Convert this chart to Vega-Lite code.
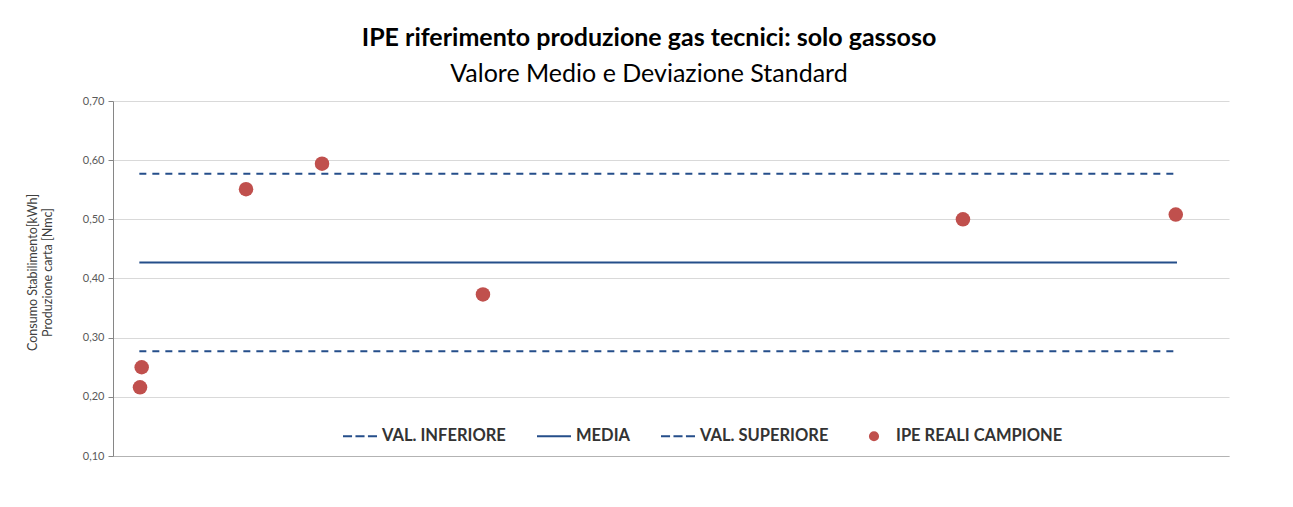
{
  "$schema": "https://vega.github.io/schema/vega-lite/v6.json",
  "autosize": {"type": "none"},
  "width": 1116,
  "height": 355,
  "padding": {"left": 113, "top": 101, "right": 64, "bottom": 51},
  "background": "white",
  "title": {
    "text": "IPE riferimento produzione gas tecnici: solo gassoso",
    "subtitle": "Valore Medio e Deviazione Standard",
    "anchor": "middle",
    "dx": -22,
    "offset": 8,
    "font": "Lato",
    "fontSize": 25,
    "fontWeight": "bold",
    "color": "#000000",
    "subtitleFont": "Lato",
    "subtitleFontSize": 25,
    "subtitleColor": "#000000",
    "subtitlePadding": 11
  },
  "config": {
    "view": {"stroke": null},
    "font": "Lato",
    "legend": {
      "orient": "none",
      "direction": "horizontal",
      "legendX": 229,
      "legendY": 317,
      "padding": 0,
      "columnPadding": 27,
      "symbolSize": 1156,
      "labelFont": "Lato",
      "labelFontSize": 16.5,
      "labelFontWeight": "bold",
      "labelColor": "#333333",
      "labelOffset": 4,
      "labelLimit": 0
    }
  },
  "layer": [
    {
      "data": {
        "values": [
          {"series": "VAL. INFERIORE", "x": 2.36, "v": 0.277},
          {"series": "VAL. INFERIORE", "x": 95.34, "v": 0.277},
          {"series": "MEDIA", "x": 2.36, "v": 0.427},
          {"series": "MEDIA", "x": 95.34, "v": 0.427},
          {"series": "VAL. SUPERIORE", "x": 2.36, "v": 0.577},
          {"series": "VAL. SUPERIORE", "x": 95.34, "v": 0.577}
        ]
      },
      "mark": {"type": "line", "strokeWidth": 2},
      "encoding": {
        "x": {
          "field": "x", "type": "quantitative",
          "scale": {"domain": [0, 100], "nice": false, "zero": false},
          "axis": {"title": null, "labels": false, "ticks": false, "grid": false, "domain": true, "domainColor": "#b3b3b3", "domainWidth": 1}
        },
        "y": {
          "field": "v", "type": "quantitative",
          "scale": {"domain": [0.1, 0.7], "nice": false, "zero": false},
          "axis": {
            "values": [0.1, 0.2, 0.3, 0.4, 0.5, 0.6, 0.7],
            "labelExpr": "replace(format(datum.value, '.2f'), '.', ',')",
            "labelFont": "Lato", "labelFontSize": 11, "labelColor": "#595959", "labelPadding": 4,
            "tickSize": 5, "tickColor": "#868686", "domainColor": "#868686",
            "gridColor": "#d9d9d9", "gridWidth": 1,
            "title": ["Consumo Stabilimento[kWh]", "Produzione carta [Nmc]"],
            "titleFont": "Lato", "titleFontSize": 12.5, "titleFontWeight": "normal", "titleColor": "#404040",
            "titleLineHeight": 15, "titlePadding": 28, "titleY": 171
          }
        },
        "color": {
          "field": "series", "type": "nominal",
          "title": null,
          "scale": {
            "domain": ["VAL. INFERIORE", "MEDIA", "VAL. SUPERIORE", "IPE REALI CAMPIONE"],
            "range": ["#254E8A", "#254E8A", "#254E8A", "#C0504D"]
          },
          "legend": {
            "title": null,
            "encode": {
              "symbols": {
                "update": {
                  "shape": {"signal": "datum.value === 'IPE REALI CAMPIONE' ? 'M-0.24,0A0.24,0.24 0 1,0 0.24,0A0.24,0.24 0 1,0 -0.24,0Z' : (datum.value === 'MEDIA' ? 'M-1,0H1' : 'M-1,0H-0.467M-0.267,0H0.267M0.467,0H1')"},
                  "fill": {"signal": "datum.value === 'IPE REALI CAMPIONE' ? '#C0504D' : 'transparent'"},
                  "stroke": {"signal": "datum.value === 'IPE REALI CAMPIONE' ? 'transparent' : '#254E8A'"},
                  "strokeWidth": {"value": 2},
                  "strokeDash": {"value": []},
                  "size": {"value": 1156},
                  "opacity": {"value": 1}
                }
              }
            }
          }
        },
        "strokeDash": {
          "field": "series", "type": "nominal",
          "scale": {
            "domain": ["VAL. INFERIORE", "MEDIA", "VAL. SUPERIORE"],
            "range": [[7, 6], [1, 0], [7, 6]]
          },
          "legend": null
        }
      }
    },
    {
      "data": {
        "values": [
          {"series": "IPE REALI CAMPIONE", "x": 2.42, "v": 0.216},
          {"series": "IPE REALI CAMPIONE", "x": 2.57, "v": 0.250},
          {"series": "IPE REALI CAMPIONE", "x": 11.92, "v": 0.551},
          {"series": "IPE REALI CAMPIONE", "x": 18.73, "v": 0.594},
          {"series": "IPE REALI CAMPIONE", "x": 33.15, "v": 0.373},
          {"series": "IPE REALI CAMPIONE", "x": 76.16, "v": 0.500},
          {"series": "IPE REALI CAMPIONE", "x": 95.23, "v": 0.508}
        ]
      },
      "mark": {"type": "point", "filled": true, "opacity": 1, "size": 210},
      "encoding": {
        "x": {"field": "x", "type": "quantitative"},
        "y": {"field": "v", "type": "quantitative"},
        "color": {"field": "series", "type": "nominal", "title": null}
      }
    }
  ]
}
